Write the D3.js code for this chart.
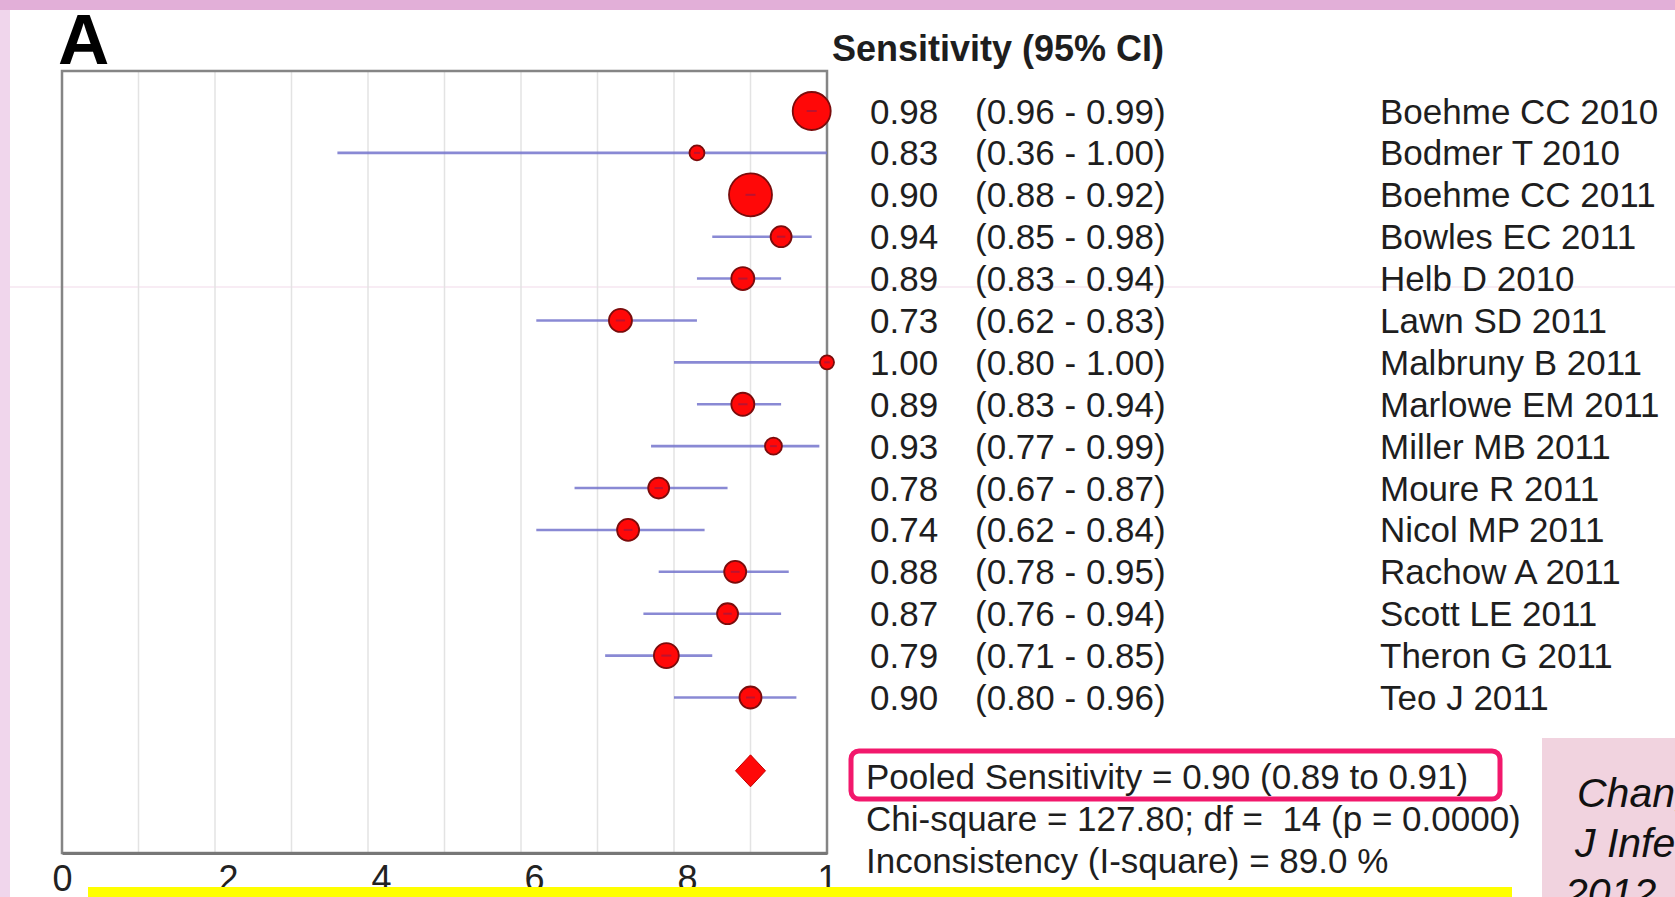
<!DOCTYPE html>
<meta charset="utf-8">
<style>
body { margin: 0; background: #fff; }
svg { display: block; font-family: "Liberation Sans", Arial, sans-serif; }
.grid line { stroke: #e3e3e3; stroke-width: 1.5; }
.row text, .stats text { font-size: 35px; fill: #1e1e1e; white-space: pre; }
</style>
<body>
<div id="chart"></div>
<script src="https://d3js.org/d3.v7.min.js"></script>
<script>
var studies = ["Boehme CC 2010", "Bodmer T 2010", "Boehme CC 2011", "Bowles EC 2011", "Helb D 2010",
  "Lawn SD 2011", "Malbruny B 2011", "Marlowe EM 2011", "Miller MB 2011", "Moure R 2011",
  "Nicol MP 2011", "Rachow A 2011", "Scott LE 2011", "Theron G 2011", "Teo J 2011"];
var sens = [0.98, 0.83, 0.90, 0.94, 0.89, 0.73, 1.00, 0.89, 0.93, 0.78, 0.74, 0.88, 0.87, 0.79, 0.90];
var ciLow = [0.96, 0.36, 0.88, 0.85, 0.83, 0.62, 0.80, 0.83, 0.77, 0.67, 0.62, 0.78, 0.76, 0.71, 0.80];
var ciHigh = [0.99, 1.00, 0.92, 0.98, 0.94, 0.83, 1.00, 0.94, 0.99, 0.87, 0.84, 0.95, 0.94, 0.85, 0.96];
// relative study weights (%)
var weight = [16.1, 2.5, 20.6, 4.9, 5.9, 5.9, 2.2, 5.9, 3.2, 4.9, 5.4, 5.4, 4.9, 6.9, 5.4];
var pooled = 0.90;
var xTicks = [0, 0.2, 0.4, 0.6, 0.8, 1];
var tickLabels = ["0", ".2", ".4", ".6", ".8", "1"];
var statLines = ["Pooled Sensitivity = 0.90 (0.89 to 0.91)",
  "Chi-square = 127.80; df =  14 (p = 0.0000)",
  "Inconsistency (I-square) = 89.0 %"];
var citation = ["Chang", "J Infect", "2012"];

var W = 1675, H = 897;
var box = {left: 62, right: 827, top: 71, bottom: 853};

var svg = d3.select("#chart").append("svg")
    .attr("width", W)
    .attr("height", H);

// slide decorations
svg.append("rect").attr("x", 0).attr("y", 0).attr("width", W).attr("height", 10).attr("fill", "#e2afd8");
svg.append("rect").attr("x", 0).attr("y", 10).attr("width", 10).attr("height", H - 10).attr("fill", "#f0d6ec");
svg.append("line").attr("x1", 10).attr("x2", W).attr("y1", 287).attr("y2", 287)
  .attr("stroke", "#f6e6f0").attr("stroke-width", 1.5);

var x = d3.scaleLinear().domain([0, 1]).range([box.left, box.right]);
var y = d3.scaleLinear().domain([0, 14]).range([111, 697.5]);
var r = d3.scaleSqrt().domain([0, d3.max(weight)]).range([0, 21.5]);

// panel letter
svg.append("text").attr("x", 58).attr("y", 64)
  .style("font-size", "71px").style("font-weight", "bold").text("A");

// grid
svg.append("g").attr("class", "grid")
  .selectAll("line").data(d3.range(1, 10).map(function(d) { return d / 10; }))
  .enter().append("line")
  .attr("x1", function(d) { return x(d); }).attr("x2", function(d) { return x(d); })
  .attr("y1", box.top).attr("y2", box.bottom);

// frame
svg.append("rect").attr("x", box.left).attr("y", box.top)
  .attr("width", box.right - box.left).attr("height", box.bottom - box.top)
  .attr("fill", "none").attr("stroke", "#858585").attr("stroke-width", 2.5);

// x axis
var axis = svg.append("g").attr("transform", "translate(0," + box.bottom + ")")
  .call(d3.axisBottom(x).tickValues(xTicks).tickSize(0).tickFormat(function(d, i) { return tickLabels[i]; }));
axis.select(".domain").attr("stroke", "#777").attr("stroke-width", 3);
axis.selectAll(".tick text")
  .style("font-size", "36px").style("font-family", "Liberation Sans, Arial, sans-serif")
  .attr("fill", "#222").attr("y", 11).attr("dy", "0.75em")
  .attr("text-anchor", function(d) { return (d === 0 || d === 1) ? "middle" : "start"; })
  .attr("dx", function(d) { return (d === 0 || d === 1) ? 0 : -7; });

// study CIs, markers drawn over them
var idx = d3.range(studies.length);
svg.append("g").selectAll("line").data(idx).enter().append("line")
  .attr("x1", function(i) { return x(ciLow[i]); })
  .attr("x2", function(i) { return x(ciHigh[i]); })
  .attr("y1", function(i) { return y(i); })
  .attr("y2", function(i) { return y(i); })
  .attr("stroke", "#7474cc").attr("stroke-opacity", 0.85).attr("stroke-width", 2.6);

svg.append("g").selectAll("circle").data(idx).enter().append("circle")
  .attr("cx", function(i) { return x(sens[i]); })
  .attr("cy", function(i) { return y(i); })
  .attr("r", function(i) { return r(weight[i]); })
  .attr("fill", "#ff0808").attr("stroke", "#7a0c0c").attr("stroke-width", 1.8);

// faint centre dash inside each marker
svg.append("g").selectAll("line").data(idx).enter().append("line")
  .attr("x1", function(i) { return x(sens[i]) - Math.min(5, r(weight[i]) * 0.4); })
  .attr("x2", function(i) { return x(sens[i]) + Math.min(5, r(weight[i]) * 0.4); })
  .attr("y1", function(i) { return y(i); })
  .attr("y2", function(i) { return y(i); })
  .attr("stroke", "#6a2060").attr("stroke-opacity", 0.45).attr("stroke-width", 2);

// pooled diamond
var py = y(15.75), px = x(pooled);
svg.append("path")
  .attr("d", "M" + (px - 15) + "," + py + "L" + px + "," + (py - 16) + "L" + (px + 15) + "," + py + "L" + px + "," + (py + 16) + "Z")
  .attr("fill", "#ff0808").attr("stroke", "#c00000").attr("stroke-width", 1);

// header and rows
svg.append("text").attr("x", 832).attr("y", 61)
  .style("font-size", "36px").style("font-weight", "bold").attr("fill", "#1e1e1e")
  .text("Sensitivity (95% CI)");

var rows = svg.append("g").attr("class", "row").selectAll("g").data(idx).enter().append("g")
  .attr("transform", function(i) { return "translate(0," + (y(i) + 12.5) + ")"; });
rows.append("text").attr("x", 870).text(function(i) { return sens[i].toFixed(2); });
rows.append("text").attr("x", 975)
  .text(function(i) { return "(" + ciLow[i].toFixed(2) + " - " + ciHigh[i].toFixed(2) + ")"; });
rows.append("text").attr("x", 1380).text(function(i) { return studies[i]; });

// pooled statistics
svg.append("rect").attr("x", 851).attr("y", 751).attr("width", 649).attr("height", 48)
  .attr("rx", 8).attr("fill", "none").attr("stroke", "#f2186c").attr("stroke-width", 5);
svg.append("g").attr("class", "stats").selectAll("text").data(statLines).enter().append("text")
  .attr("x", 866).attr("y", function(d, i) { return 789 + i * 42; })
  .text(function(d) { return d; });

// citation box (runs off the right edge, as in the source slide)
svg.append("rect").attr("x", 1542).attr("y", 738).attr("width", W - 1542).attr("height", H - 738)
  .attr("fill", "#f1d3df");
svg.append("g").selectAll("text").data(citation).enter().append("text")
  .attr("x", function(d, i) { return [1577, 1575, 1565][i]; })
  .attr("y", function(d, i) { return 807 + i * 50; })
  .style("font-size", "41px").style("font-style", "italic").attr("fill", "#111")
  .text(function(d) { return d; });

// yellow highlight bar
svg.append("rect").attr("x", 88).attr("y", 887).attr("width", 1424).attr("height", 10).attr("fill", "#ffff00");
</script>
</body>
